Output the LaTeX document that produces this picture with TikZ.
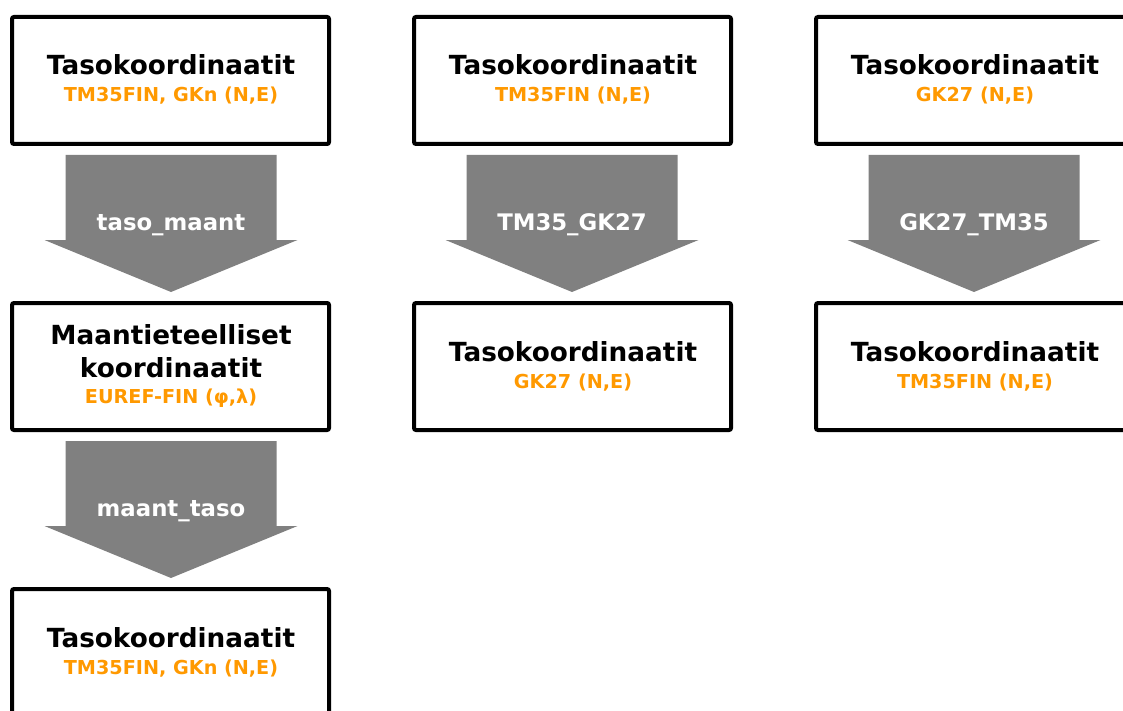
\documentclass[tikz,border=0pt]{standalone}
\usepackage{fontspec}
\setmainfont{DejaVu Sans}
\definecolor{subor}{HTML}{FF9900}
\definecolor{arrgray}{HTML}{808080}
\begin{document}
\begin{tikzpicture}[x=1pt,y=-1pt,
 box/.style={draw=black, line width=4pt, rounded corners=2pt, minimum width=317pt, minimum height=127pt, inner sep=0pt},
 ttl/.style={anchor=base, font=\bfseries\fontsize{26.3}{30}\selectfont, inner sep=0pt},
 subt/.style={anchor=base, text=subor, font=\bfseries\fontsize{19.2}{22}\selectfont, inner sep=0pt},
 arrfill/.style={fill=arrgray, draw=none},
 alab/.style={anchor=base, text=white, font=\bfseries\fontsize{22.8}{25}\selectfont, inner sep=0pt}]
\clip (0,0) rectangle (1123,711);
\fill[white] (0,0) rectangle (1123,711);
% block arrow macro: #1 name, #2 center x, #3 top y, #4 label
\newcommand\blockarr[4]{%
  \fill[arrfill] (#2-105.5,#3) -- (#2+105.5,#3) -- (#2+105.5,#3+85) -- (#2+126.5,#3+85)
     -- (#2,#3+137) -- (#2-126.5,#3+85) -- (#2-105.5,#3+85) -- cycle;
  \node[alab] (#1) at (#2,#3+75) {#4};}
% boxes
\node[box] (b11) at (170.5,80.5) {};
\node[box] (b12) at (170.5,366.5) {};
\node[box] (b13) at (170.5,652.5) {};
\node[box] (b21) at (572.5,80.5) {};
\node[box] (b22) at (572.5,366.5) {};
\node[box] (b31) at (974.5,80.5) {};
\node[box] (b32) at (974.5,366.5) {};
% texts
\node[ttl] (t11) at (171,75) {Tasokoordinaatit};
\node[subt] (s11) at (171,101.5) {TM35FIN, GKn (N,E)};
\node[ttl] (t12a) at (171,344.5) {Maantieteelliset};
\node[ttl] (t12b) at (171,377.5) {koordinaatit};
\node[subt] (s12) at (171,403.5) {EUREF-FIN (φ,λ)};
\node[ttl] (t13) at (171,647.5) {Tasokoordinaatit};
\node[subt] (s13) at (171,674) {TM35FIN, GKn (N,E)};
\node[ttl] (t21) at (573,75) {Tasokoordinaatit};
\node[subt] (s21) at (573,101.5) {TM35FIN (N,E)};
\node[ttl] (t22) at (573,361.5) {Tasokoordinaatit};
\node[subt] (s22) at (573,388) {GK27 (N,E)};
\node[ttl] (t31) at (975,75) {Tasokoordinaatit};
\node[subt] (s31) at (975,101.5) {GK27 (N,E)};
\node[ttl] (t32) at (975,361.5) {Tasokoordinaatit};
\node[subt] (s32) at (975,388) {TM35FIN (N,E)};
% arrows
\blockarr{a1}{171}{155}{taso\_maant}
\blockarr{a2}{171}{441}{maant\_taso}
\blockarr{a3}{572}{155}{TM35\_GK27}
\blockarr{a4}{974}{155}{GK27\_TM35}
\end{tikzpicture}
\end{document}
